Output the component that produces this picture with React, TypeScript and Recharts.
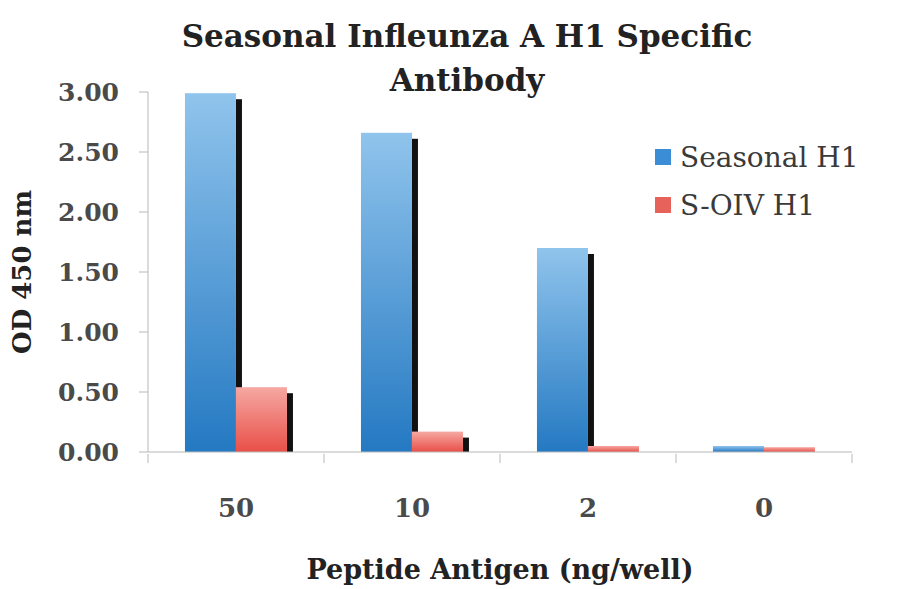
import { BarChart, Bar, XAxis, YAxis } from "recharts"

const categories = ["50", "10", "2", "0"]
const seasonalH1 = [2.99, 2.66, 1.7, 0.05]
const soivH1 = [0.54, 0.17, 0.05, 0.04]
const yTicks = [0, 0.5, 1, 1.5, 2, 2.5, 3]
const seriesNames = ["Seasonal H1", "S-OIV H1"]

const data = categories.map((c, i) => ({ dose: c, seasonal: seasonalH1[i], soiv: soivH1[i] }))

const FONT = "'DejaVu Serif', serif"
const AXIS = "#b8b8b8"

function ShadowBar(props: any) {
  const { x, y, width, height, fill } = props
  const sh = height - 6
  return (
    <g>
      {sh > 0 && <rect x={x + width} y={y + 6} width={6} height={sh} fill="#111" />}
      <rect x={x} y={y} width={width} height={height} fill={fill} />
    </g>
  )
}

function XTick(props: any) {
  const { x, y, payload, index, visibleTicksCount } = props
  const half = payload.offset ?? 0
  return (
    <g>
      <line x1={x - half} x2={x - half} y1={y} y2={y + 9} stroke={AXIS} />
      {index === visibleTicksCount - 1 && (
        <line x1={x + half} x2={x + half} y1={y} y2={y + 9} stroke={AXIS} />
      )}
      <text x={x} y={y + 63} textAnchor="middle" fontFamily={FONT} fontWeight="bold" fontSize={26} fill="#4a4a4a">
        {payload.value}
      </text>
    </g>
  )
}

function LegendBox() {
  const colors = ["#3b8dd6", "#e8625c"]
  return (
    <div style={{ position: "absolute", left: 655, top: 133, fontFamily: FONT, fontSize: 28, color: "#3a3a3a" }}>
      {seriesNames.map((name, i) => (
        <div key={name} style={{ display: "flex", alignItems: "center", height: 48 }}>
          <span style={{ width: 16, height: 16, background: colors[i], marginRight: 9, display: "inline-block" }} />
          {name}
        </div>
      ))}
    </div>
  )
}

export default function App() {
  return (
    <div style={{ position: "absolute", left: 0, top: 0, width: 900, height: 589, background: "#fff" }}>
      <div
        style={{
          position: "absolute",
          left: 0,
          top: 14,
          width: 934,
          textAlign: "center",
          fontFamily: FONT,
          fontWeight: "bold",
          fontSize: 31,
          lineHeight: "44px",
          color: "#222",
        }}
      >
        Seasonal Infleunza A H1 Specific
        <br />
        Antibody
      </div>
      <BarChart
        width={900}
        height={589}
        data={data}
        margin={{ top: 92, right: 48, bottom: 0, left: 0 }}
        barCategoryGap="21%"
        barGap={0}
      >
        <defs>
          <linearGradient id="blueGrad" x1="0" y1="0" x2="0" y2="1">
            <stop offset="0%" stopColor="#90c4ec" />
            <stop offset="100%" stopColor="#2479c2" />
          </linearGradient>
          <linearGradient id="redGrad" x1="0" y1="0" x2="0" y2="1">
            <stop offset="0%" stopColor="#f6a8a2" />
            <stop offset="100%" stopColor="#e84f48" />
          </linearGradient>
        </defs>
        <XAxis
          dataKey="dose"
          height={137}
          stroke={AXIS}
          tickLine={false}
          tickSize={0}
          tick={<XTick />}
          interval={0}
          label={{
            value: "Peptide Antigen (ng/well)",
            position: "insideBottom",
            offset: 10,
            style: { fontFamily: FONT, fontWeight: "bold", fontSize: 27, fill: "#222" },
          }}
        />
        <YAxis
          width={148}
          domain={[0, 3]}
          ticks={yTicks}
          stroke={AXIS}
          tickSize={9}
          tickMargin={20}
          tickFormatter={(v: number) => v.toFixed(2)}
          tick={{ fontFamily: FONT, fontWeight: "bold", fontSize: 25, fill: "#4a4a4a" }}
          label={({ viewBox }: any) => (
            <text
              x={22}
              y={viewBox.y + viewBox.height / 2}
              transform={`rotate(-90 22 ${viewBox.y + viewBox.height / 2})`}
              textAnchor="middle"
              dominantBaseline="central"
              fontFamily={FONT}
              fontWeight="bold"
              fontSize={26}
              fill="#222"
            >
              OD 450 nm
            </text>
          )}
        />
        <Bar dataKey="seasonal" name={seriesNames[0]} fill="url(#blueGrad)" shape={<ShadowBar />} isAnimationActive={false} />
        <Bar dataKey="soiv" name={seriesNames[1]} fill="url(#redGrad)" shape={<ShadowBar />} isAnimationActive={false} />
      </BarChart>
      <LegendBox />
    </div>
  )
}
